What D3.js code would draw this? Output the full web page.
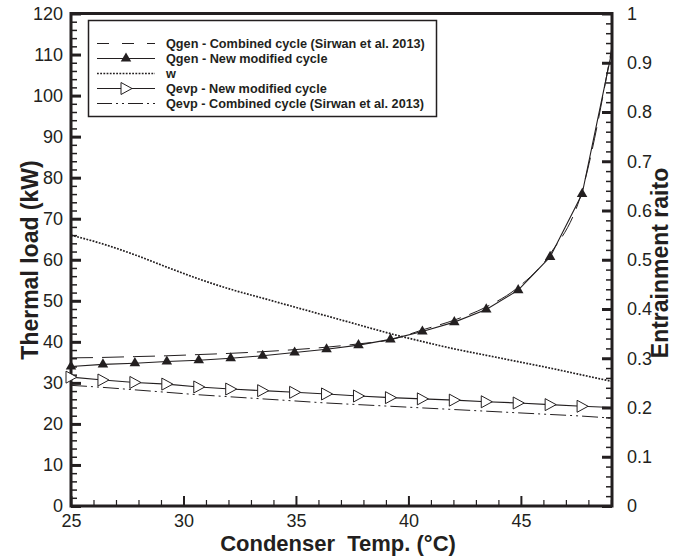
<!DOCTYPE html>
<html>
<head>
<meta charset="utf-8">
<script src="https://cdn.jsdelivr.net/npm/d3@7"></script>
<style>
  html, body { margin: 0; padding: 0; background: #fff; }
  svg { display: block; font-family: "Liberation Sans", Arial, sans-serif; }
</style>
</head>
<body>
<svg id="chart" width="673" height="558"></svg>
<script>
// ---------------- data ----------------
const temps = [25, 26.42, 27.84, 29.26, 30.68, 32.1, 33.52, 34.94, 36.36, 37.78,
               39.2, 40.62, 42.04, 43.46, 44.88, 46.3, 47.72, 49.05];
const qgenCombined = [36.1, 36.2, 36.4, 36.6, 36.9, 37.2, 37.6, 38.1, 38.7, 39.5,
                      40.5, 42.9, 45.3, 48.5, 53.3, 61.4, 76.8, 112];
const qgenNew = [34.0, 34.5, 34.8, 35.2, 35.5, 36.0, 36.6, 37.4, 38.2, 39.2,
                 40.6, 42.5, 44.8, 47.9, 52.6, 60.7, 76.0, 111];
const wRatio = [0.550, 0.532, 0.510, 0.485, 0.461, 0.440, 0.422, 0.404, 0.386, 0.368,
                0.350, 0.334, 0.319, 0.306, 0.293, 0.280, 0.266, 0.253];
const qevpNew = [31.4, 30.7, 30.1, 29.7, 29.0, 28.5, 28.1, 27.7, 27.3, 26.8,
                 26.4, 26.1, 25.8, 25.4, 25.1, 24.7, 24.3, 24.0];
const qevpCombined = [29.4, 28.9, 28.3, 27.7, 27.1, 26.6, 26.1, 25.6, 25.1, 24.7,
                      24.3, 23.9, 23.5, 23.1, 22.7, 22.3, 21.9, 21.4];

const xTicks = [25, 30, 35, 40, 45];
const yTicks = [0, 10, 20, 30, 40, 50, 60, 70, 80, 90, 100, 110, 120];
const yRightTicks = [0, 0.1, 0.2, 0.3, 0.4, 0.5, 0.6, 0.7, 0.8, 0.9, 1];

const legendLabels = [
  "Qgen - Combined cycle (Sirwan et al. 2013)",
  "Qgen - New modified cycle",
  "w",
  "Qevp - New modified cycle",
  "Qevp - Combined cycle (Sirwan et al. 2013)"
];

// ---------------- layout ----------------
const INK = "#231f20";
const L = 71, R = 612, T = 13.5, B = 506;
const svg = d3.select("#chart");

const x = d3.scaleLinear().domain([25, 49.05]).range([L, R]);
const y = d3.scaleLinear().domain([0, 120]).range([B, T]);
const yR = d3.scaleLinear().domain([0, 1]).range([B, T]);

svg.append("defs").append("clipPath").attr("id", "plotclip")
  .append("rect").attr("x", L).attr("y", T).attr("width", R - L).attr("height", B - T);

// minor tick values
const xMinor = d3.range(26, 49.01, 1).filter(v => v % 5 !== 0);
const yMinor = d3.range(2, 120, 2).filter(v => v % 10 !== 0);
const yRMinor = d3.range(1, 50, 1).filter(v => v % 5 !== 0).map(v => v / 50);

function styleAxis(g, fs) {
  g.select(".domain").remove();
  g.selectAll("line").attr("stroke", INK);
  g.selectAll("text").attr("fill", INK).style("font-size", fs + "px")
    .style("font-family", '"Liberation Sans", Arial, sans-serif');
}

// left axis
const gl = svg.append("g").attr("transform", `translate(${L},0)`)
  .call(d3.axisLeft(y).tickValues(yTicks).tickFormat(d3.format("d"))
    .tickSizeInner(-10).tickSizeOuter(0).tickPadding(8));
styleAxis(gl, 18); gl.selectAll("line").attr("stroke-width", 3);
const glm = svg.append("g").attr("transform", `translate(${L},0)`)
  .call(d3.axisLeft(y).tickValues(yMinor).tickFormat("").tickSizeInner(-6).tickSizeOuter(0));
styleAxis(glm, 18); glm.selectAll("line").attr("stroke-width", 1.5);

// right axis
const gr = svg.append("g").attr("transform", `translate(${R},0)`)
  .call(d3.axisRight(yR).tickValues(yRightTicks).tickFormat(d => d === 0 || d === 1 ? d3.format("d")(d) : d3.format(".1f")(d))
    .tickSizeInner(-10).tickSizeOuter(0).tickPadding(15));
styleAxis(gr, 18); gr.selectAll("line").attr("stroke-width", 3);
const grm = svg.append("g").attr("transform", `translate(${R},0)`)
  .call(d3.axisRight(yR).tickValues(yRMinor).tickFormat("").tickSizeInner(-6).tickSizeOuter(0));
styleAxis(grm, 18); grm.selectAll("line").attr("stroke-width", 1.5);

// bottom axis
const gb = svg.append("g").attr("transform", `translate(0,${B})`)
  .call(d3.axisBottom(x).tickValues(xTicks).tickFormat(d3.format("d"))
    .tickSizeInner(-10).tickSizeOuter(0).tickPadding(8));
styleAxis(gb, 18); gb.selectAll("line").attr("stroke-width", 2);
const gbm = svg.append("g").attr("transform", `translate(0,${B})`)
  .call(d3.axisBottom(x).tickValues(xMinor).tickFormat("").tickSizeInner(-6).tickSizeOuter(0));
styleAxis(gbm, 18); gbm.selectAll("line").attr("stroke-width", 1.2);

// frame
svg.append("rect").attr("x", L).attr("y", T).attr("width", R - L).attr("height", B - T)
  .attr("fill", "none").attr("stroke", INK).attr("stroke-width", 3);

// ---------------- series ----------------
const plot = svg.append("g").attr("clip-path", "url(#plotclip)");
const lineL = vals => d3.line().x((d, i) => x(temps[i])).y(d => y(d))(vals);
const lineS = vals => d3.line().curve(d3.curveMonotoneX).x((d, i) => x(temps[i])).y(d => y(d))(vals);
const lineW = d3.line().curve(d3.curveMonotoneX).x((d, i) => x(temps[i])).y(d => yR(d));

plot.append("path").attr("d", lineS(qgenCombined)).attr("fill", "none")
  .attr("stroke", INK).attr("stroke-width", 1).attr("stroke-dasharray", "22,9");
plot.append("path").attr("d", lineL(qgenNew)).attr("fill", "none")
  .attr("stroke", INK).attr("stroke-width", 1.1);
plot.append("path").attr("d", lineW(wRatio)).attr("fill", "none")
  .attr("stroke", INK).attr("stroke-width", 1.7).attr("stroke-dasharray", "1.8,1.4");
plot.append("path").attr("d", lineL(qevpNew)).attr("fill", "none")
  .attr("stroke", INK).attr("stroke-width", 1.1);
plot.append("path").attr("d", lineS(qevpCombined)).attr("fill", "none")
  .attr("stroke", INK).attr("stroke-width", 1).attr("stroke-dasharray", "16,4,2,4,2,4");

const triUp = d3.symbol().type(d3.symbolTriangle).size(48);
const triRight = "M-5,-6 L6,0 L-5,6 Z";

svg.append("g").selectAll("path.tu").data(qgenNew.slice(0, 17)).join("path")
  .attr("transform", (d, i) => `translate(${x(temps[i])},${y(d)})`)
  .attr("d", triUp).attr("fill", INK);
svg.append("g").selectAll("path.tr").data(qevpNew.slice(0, 17)).join("path")
  .attr("transform", (d, i) => `translate(${x(temps[i])},${y(d)})`)
  .attr("d", triRight).attr("fill", "#fff").attr("stroke", INK).attr("stroke-width", 1);

// ---------------- legend ----------------
const lg = svg.append("g");
lg.append("rect").attr("x", 88.5).attr("y", 20.5).attr("width", 348).attr("height", 96)
  .attr("fill", "#fff").attr("stroke", INK).attr("stroke-width", 1.5);
const legendStyles = [
  {dash: "12,13", marker: null},
  {dash: null, marker: "up"},
  {dash: "1.8,1.4", marker: null, w: 1.7},
  {dash: null, marker: "right"},
  {dash: "15,4,2,4,2,4", marker: null}
];
legendLabels.forEach((lab, i) => {
  const yy = 43.5 + i * 15;
  const st = legendStyles[i];
  const ln = lg.append("line").attr("x1", 97).attr("x2", 155).attr("y1", yy).attr("y2", yy)
    .attr("stroke", INK).attr("stroke-width", st.w || 1);
  if (st.dash) ln.attr("stroke-dasharray", st.dash);
  if (st.marker === "up") lg.append("path").attr("transform", `translate(126,${yy})`).attr("d", triUp).attr("fill", INK);
  if (st.marker === "right") lg.append("path").attr("transform", `translate(126,${yy})`).attr("d", triRight)
    .attr("fill", "#fff").attr("stroke", INK);
  lg.append("text").attr("x", 166).attr("y", yy).attr("dy", "0.36em")
    .attr("fill", INK).style("font-size", "12.7px").style("font-weight", "bold").text(lab);
});

// ---------------- titles ----------------
svg.append("text").attr("transform", `translate(38,260) rotate(-90)`)
  .attr("text-anchor", "middle").attr("fill", INK)
  .style("font-size", "23px").style("font-weight", "bold").text("Thermal load (kW)");
svg.append("text").attr("transform", `translate(668,263) rotate(-90)`)
  .attr("text-anchor", "middle").attr("fill", INK)
  .style("font-size", "23px").style("font-weight", "bold").text("Entrainment raito");
svg.append("text").attr("x", 338).attr("y", 551)
  .attr("text-anchor", "middle").attr("fill", INK).style("white-space", "pre")
  .style("font-size", "22px").style("font-weight", "bold").text("Condenser  Temp. (°C)");
</script>
</body>
</html>
